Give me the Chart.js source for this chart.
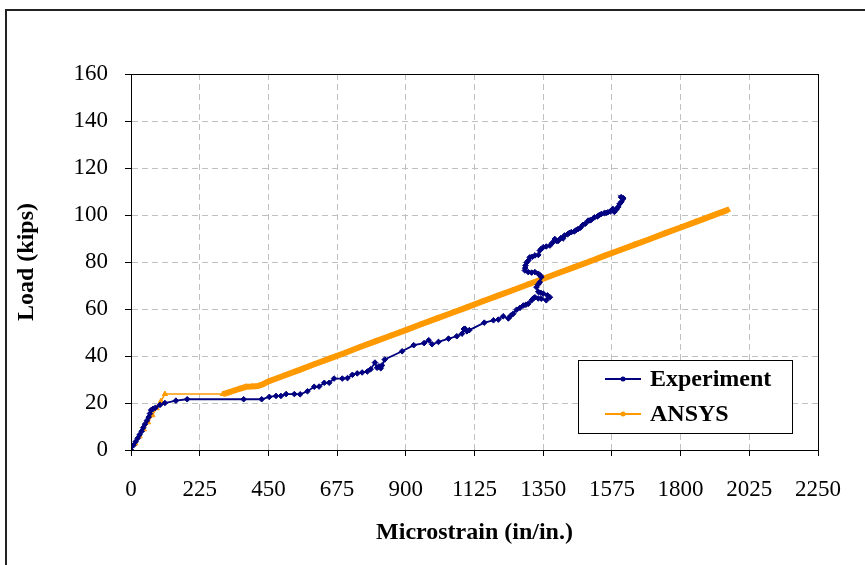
<!DOCTYPE html>
<html>
<head>
<meta charset="utf-8">
<script src="https://cdn.jsdelivr.net/npm/chart.js@4.4.0/dist/chart.umd.min.js"></script>
<style>
  html, body { margin: 0; padding: 0; background: #fff; }
  canvas { display: block; }
</style>
</head>
<body>
<canvas id="chart" width="865" height="565"></canvas>
<script>
// Load vs. microstrain, test readings
const expStrain = [0, 8, 15, 22, 28, 35, 40, 46, 52, 58, 62, 66, 72, 80, 95, 111, 147, 184, 369, 428,
  453, 475, 491, 508, 535, 554, 578, 600, 616, 633, 649, 665, 692, 709, 725, 741, 757, 774, 785, 799,
  806, 812, 818, 822, 831, 888, 926, 960, 975, 986, 1007, 1040, 1067, 1084, 1090, 1094, 1100, 1108,
  1157, 1187, 1203, 1219, 1236, 1244, 1252, 1263, 1274, 1285, 1293, 1301, 1312, 1318, 1323, 1334, 1344,
  1360, 1372, 1364, 1350, 1342, 1334, 1328, 1333, 1339, 1344, 1340, 1334, 1323, 1312, 1301, 1290, 1291,
  1292, 1296, 1301, 1306, 1314, 1323, 1334, 1339, 1344, 1350, 1360, 1372, 1380, 1388, 1394, 1399,
  1408, 1415, 1420, 1430, 1436, 1442, 1452, 1458, 1464, 1472, 1480, 1488, 1497, 1503, 1508, 1518,
  1528, 1534, 1540, 1550, 1556, 1562, 1570, 1578, 1583, 1590, 1596, 1600, 1606, 1611, 1605, 1612];
const expLoad = [0, 2, 3.5, 5, 6.5, 8, 9.5, 11, 12.5, 14, 15.5, 17, 17.5, 18, 19.2, 20, 21, 21.6, 21.6, 21.6,
  22.6, 23, 23, 23.8, 23.8, 23.7, 25, 26.9, 27, 28.6, 28.6, 30.4, 30.4, 30.6, 32, 32.6, 33, 33.4, 34.4, 37.2,
  35, 35.6, 34.8, 36, 38.5, 42, 44.6, 45.5, 46.7, 45, 46, 47.4, 48.4, 49.5, 51.5, 51.6, 50.5, 51,
  54.2, 55.2, 55.5, 56.9, 56, 57.2, 58, 59.7, 60.5, 61.5, 61.8, 62.2, 63.7, 64.6, 65, 64.5, 64.4,
  63.7, 65, 65.8, 66.6, 66.9, 67.3, 69.3, 70.4, 71.4, 73.6, 74.3, 75, 75.7, 75.5, 75.7, 76.4, 77.4,
  78.5, 79.8, 80.6, 82, 82.2, 82.8, 83, 84.9, 85.6, 86.3, 86.6, 87, 88.2, 89.8, 88.9, 89,
  90.2, 90, 91.3, 91.8, 92.4, 92.7, 93, 93.6, 94, 94.6, 95.8, 96.3, 97.6, 97.7, 98, 99,
  99.4, 100, 100.4, 100.8, 100.9, 101.2, 101.5, 102.6, 101.3, 102.4, 103.5, 104.7, 105.6, 106.8, 107.6, 107.2];

// Finite element prediction
const ansysStrain = [0, 14, 28, 42, 56, 70, 84, 98, 111, 301, 318, 336, 355, 377, 395, 415, 432,
  450, 500, 550, 600, 650, 700, 750, 800, 850, 900, 950, 1000, 1050, 1100, 1150, 1200, 1250, 1300,
  1350, 1400, 1450, 1500, 1550, 1600, 1650, 1700, 1750, 1800, 1850, 1900, 1955];
const ansysLoad = [0, 2.8, 5.8, 8.8, 11.8, 14.8, 17.8, 20.8, 23.8, 23.8, 24.4, 25.2, 26, 26.9, 27, 27.2, 28,
  29.2, 31.6, 34, 36.5, 38.9, 41.3, 43.8, 46.2, 48.6, 51, 53.5, 55.9, 58.3, 60.7, 63.2, 65.6, 68, 70.4,
  72.9, 75.3, 77.7, 80.1, 82.6, 85, 87.4, 89.8, 92.3, 94.7, 97.1, 99.5, 102.2];

const NAVY = '#000080';
const ORANGE = '#FF9900';
const SERIF = '"Liberation Serif", "Times New Roman", serif';

const toPoints = (xs, ys) => xs.map((x, i) => ({ x, y: ys[i] }));

// outer frame + plot box
const framePlugin = {
  id: 'frame',
  beforeDraw(chart) {
    const { ctx, width, height } = chart;
    ctx.save();
    ctx.fillStyle = '#fff';
    ctx.fillRect(0, 0, width, height);
    ctx.strokeStyle = '#222';
    ctx.lineWidth = 2;
    ctx.beginPath();
    ctx.moveTo(6, height + 2);
    ctx.lineTo(6, 10);
    ctx.lineTo(width + 2, 10);
    ctx.stroke();
    ctx.restore();
  },
  afterDraw(chart) {
    const { ctx, chartArea: a } = chart;
    ctx.save();
    ctx.strokeStyle = '#000';
    ctx.lineWidth = 1;
    ctx.strokeRect(a.left + 0.5, a.top + 0.5, a.right - a.left, a.bottom - a.top);
    ctx.restore();
  }
};

// boxed legend inside the plot
const boxLegend = {
  id: 'boxLegend',
  afterDraw(chart) {
    const { ctx } = chart;
    const x = 578, y = 360, w = 214, h = 73;
    ctx.save();
    ctx.fillStyle = '#fff';
    ctx.fillRect(x, y, w, h);
    ctx.strokeStyle = '#000';
    ctx.lineWidth = 1;
    ctx.strokeRect(x + 0.5, y + 0.5, w, h);
    chart.data.datasets.forEach((ds, i) => {
      const ly = y + 19 + i * 35;
      ctx.strokeStyle = ds.borderColor;
      ctx.lineWidth = 2;
      ctx.beginPath();
      ctx.moveTo(x + 27, ly);
      ctx.lineTo(x + 63, ly);
      ctx.stroke();
      ctx.fillStyle = ds.borderColor;
      ctx.beginPath();
      ctx.arc(x + 45, ly, 2.5, 0, Math.PI * 2);
      ctx.fill();
      ctx.fillStyle = '#000';
      ctx.font = 'bold 24px ' + SERIF;
      ctx.textBaseline = 'middle';
      ctx.fillText(ds.label, x + 72, ly + 1);
    });
    ctx.restore();
  }
};

new Chart(document.getElementById('chart'), {
  type: 'line',
  data: {
    datasets: [{
      label: 'Experiment',
      data: toPoints(expStrain, expLoad),
      borderColor: NAVY,
      backgroundColor: NAVY,
      borderWidth: 1.8,
      pointStyle: 'rectRot',
      pointRadius: 2.8,
      pointBorderWidth: 1,
      tension: 0
    }, {
      label: 'ANSYS',
      data: toPoints(ansysStrain, ansysLoad),
      borderColor: ORANGE,
      backgroundColor: ORANGE,
      borderWidth: 1.5,
      pointStyle: 'triangle',
      pointRadius: 3,
      pointBorderWidth: 1,
      tension: 0,
      segment: {
        borderWidth: ctx => ansysStrain[ctx.p0DataIndex] >= 300 ? 6 : 1.5
      }
    }]
  },
  options: {
    responsive: false,
    animation: false,
    layout: { padding: { left: 0, top: 74, right: 47, bottom: 0 } },
    scales: {
      x: {
        type: 'linear',
        min: 0,
        max: 2250,
        afterFit: s => { s.height = 115; },
        ticks: {
          stepSize: 225,
          autoSkip: false,
          maxRotation: 0,
          padding: 20,
          color: '#000',
          font: { family: SERIF, size: 23 },
          callback: v => String(v)
        },
        grid: { color: '#c0c0c0', tickColor: '#000', tickLength: 6, tickBorderDash: [] },
        border: { display: true, color: '#000', width: 1, dash: [6, 4] },
        title: {
          display: true,
          text: 'Microstrain (in/in.)',
          color: '#000',
          font: { family: SERIF, size: 24, weight: 'bold' },
          padding: { top: 0, bottom: 18 }
        }
      },
      y: {
        min: 0,
        max: 160,
        afterFit: s => { s.width = 131; },
        ticks: {
          stepSize: 20,
          padding: 17,
          color: '#000',
          font: { family: SERIF, size: 23 },
          callback: v => String(v)
        },
        grid: { color: '#c0c0c0', tickColor: '#000', tickLength: 6, tickBorderDash: [] },
        border: { display: true, color: '#000', width: 1, dash: [6, 4] },
        title: {
          display: true,
          text: 'Load (kips)',
          color: '#000',
          font: { family: SERIF, size: 24, weight: 'bold' },
          padding: { top: 12, bottom: 0 }
        }
      }
    },
    plugins: {
      legend: { display: false },
      tooltip: { enabled: false }
    }
  },
  plugins: [framePlugin, boxLegend]
});
</script>
</body>
</html>
